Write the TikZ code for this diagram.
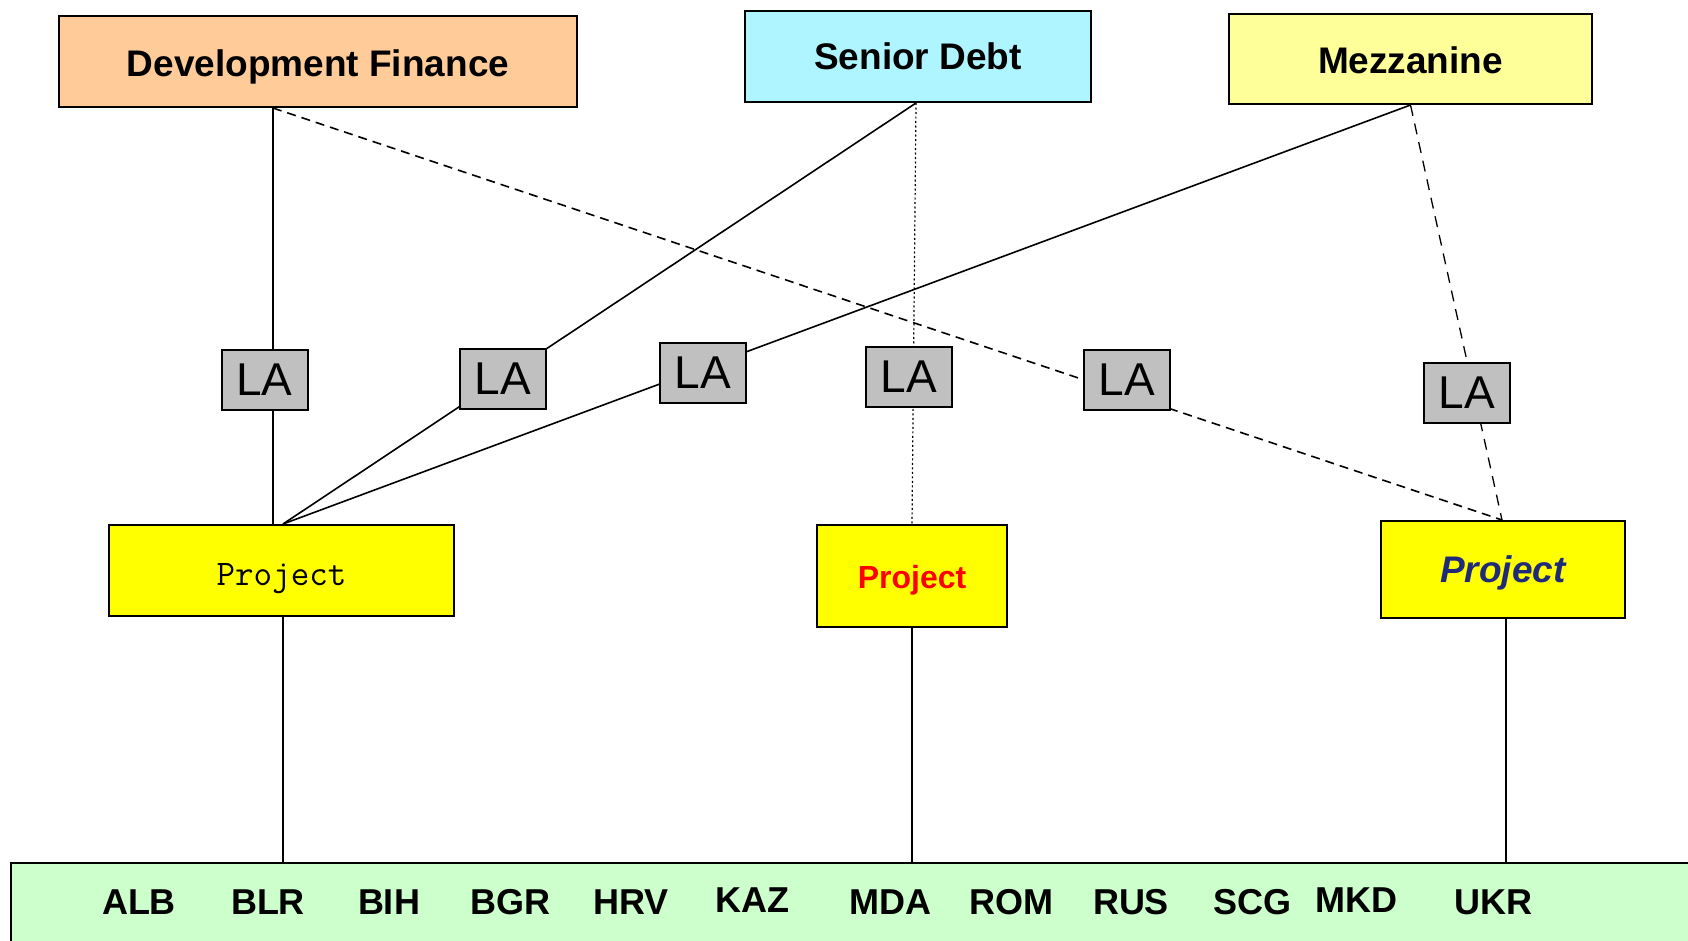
\documentclass[tikz,border=0pt]{standalone}
\usepackage{fontspec}
\setmainfont{Liberation Sans}
\usetikzlibrary{positioning}
\definecolor{dfcol}{HTML}{FFCC99}
\definecolor{sdcol}{RGB}{175,245,255}
\definecolor{mzcol}{HTML}{FFFF99}
\definecolor{lacol}{HTML}{C0C0C0}
\definecolor{pjcol}{HTML}{FFFF00}
\definecolor{ctcol}{HTML}{CCFFCC}
\definecolor{navy}{RGB}{31,42,122}
\pgfdeclarelayer{bg}
\pgfdeclarelayer{edges}
\pgfsetlayers{bg,edges,main}
\tikzset{
  box/.style={draw=black, line width=2pt, rectangle, inner sep=0pt, align=center},
  capc/.style={text depth=0pt, text height=#1},
  head/.style={box, font=\fontsize{37}{44}\selectfont\bfseries},
  labox/.style={box, fill=lacol, minimum width=86pt, minimum height=60pt, font=\fontsize{46}{50}\selectfont},
  proj/.style={box, fill=pjcol},
  cty/.style={inner sep=0pt, font=\fontsize{36}{40}\selectfont\bfseries},
  conn/.style={draw=black, line width=1.6pt},
  dashA/.style={conn, dash pattern=on 9pt off 6pt},
  dashB/.style={conn, line width=1.3pt, dash pattern=on 11pt off 8pt},
  dotA/.style={conn, line width=1.2pt, dash pattern=on 2pt off 2.5pt}
}
\begin{document}
\begin{tikzpicture}[x=1pt, y=-1pt]
\begin{pgfonlayer}{bg}
  \fill[white] (0,0) rectangle (1688,940);
\end{pgfonlayer}
\useasboundingbox (0,0) rectangle (1688,940);
\clip (0,0) rectangle (1688,940);

% headers
\node[head, capc=29.5pt, fill=dfcol, minimum width=518pt, minimum height=91pt] (df) at (318,61.5) {Development Finance};
\node[head, capc=26.5pt, fill=sdcol, minimum width=346pt, minimum height=91pt] (sd) at (918,56.5) {Senior Debt};
\node[head, capc=28pt, fill=mzcol, minimum width=363pt, minimum height=90pt] (mz) at (1410.5,59) {Mezzanine};

% projects
\node[proj, capc=29pt, minimum width=345pt, minimum height=91pt, font=\fontsize{36}{40}\selectfont\ttfamily] (p1) at (281.5,570.5) {Project};
\node[proj, capc=24.5pt, minimum width=190pt, minimum height=102pt, font=\fontsize{32}{38}\selectfont\bfseries, text=red] (p2) at (912,576) {Project};
\node[proj, capc=26.5pt, minimum width=244pt, minimum height=97pt, font=\fontsize{37}{42}\selectfont\bfseries\itshape, text=navy] (p3) at (1503,569.5) {Project};

% countries
\node[box, fill=ctcol, minimum width=1700pt, minimum height=100pt] (ct) at (861,913) {};
\node[cty] (alb) at (139,902) {ALB};
\node[cty] (blr) at (268,902) {BLR};
\node[cty] (bih) at (389,902) {BIH};
\node[cty] (bgr) at (510,902) {BGR};
\node[cty] (hrv) at (631,902) {HRV};
\node[cty] (kaz) at (752,900) {KAZ};
\node[cty] (mda) at (890,902) {MDA};
\node[cty] (rom) at (1011,902) {ROM};
\node[cty] (rus) at (1131,902) {RUS};
\node[cty] (scg) at (1252,902) {SCG};
\node[cty] (mkd) at (1356,900) {MKD};
\node[cty] (ukr) at (1493,902) {UKR};

% anchor points
\coordinate (dfA) at ([xshift=-45pt]df.south);
\coordinate (sdA) at ([xshift=-2pt]sd.south);
\coordinate (mzA) at (mz.south);
\coordinate (p1A) at ([xshift=-8.5pt]p1.north);
\coordinate (p1B) at ([xshift=1.5pt]p1.north);
\coordinate (p2A) at (p2.north);
\coordinate (p3A) at ([xshift=-1pt]p3.north);
\coordinate (p1C) at ([xshift=1.5pt]p1.south);
\coordinate (p3C) at ([xshift=3pt]p3.south);

% LA boxes
\node[labox] (la1) at (264.5,380) {LA};
\node[labox] (la2) at (503,379) {LA};
\node[labox] (la3) at (703,372.5) {LA};
\node[labox] (la4) at (909,377) {LA};
\node[labox] (la5) at (1127,380) {LA};
\node[labox] (la6) at (1467,393) {LA};

\begin{pgfonlayer}{edges}
  \draw[conn] (dfA) -- (p1A);
  \draw[conn] (sdA) -- (p1B);
  \draw[conn] (mzA) -- (p1B);
  \draw[dotA] (sdA) -- (p2A);
  \draw[dashA] (dfA) -- (p3A);
  \draw[dashB] (mzA) -- (p3A);
  \draw[conn] (p1C) -- (p1C |- ct.north);
  \draw[conn] (p2.south) -- (p2.south |- ct.north);
  \draw[conn] (p3C) -- (p3C |- ct.north);
\end{pgfonlayer}
\end{tikzpicture}
\end{document}
